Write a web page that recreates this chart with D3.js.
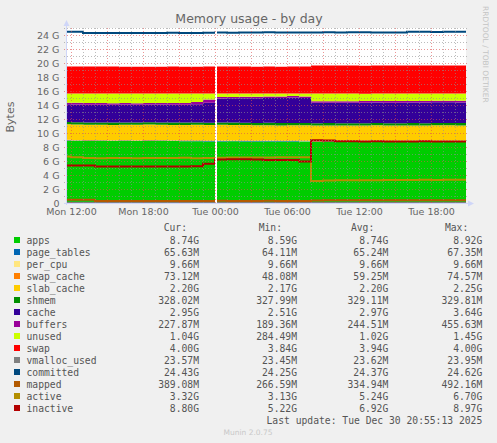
<!DOCTYPE html>
<html>
<head>
<meta charset="utf-8">
<script src="https://cdnjs.cloudflare.com/ajax/libs/d3/7.8.5/d3.min.js"></script>
<style>
body { margin: 0; background: #f0f0f0; }
svg text { font-family: "DejaVu Sans", sans-serif; fill: #666; }
.legend text { font-family: "DejaVu Sans Mono", monospace; font-size: 9.7px; fill: #555; }
</style>
</head>
<body>
<div class="memory-chart"></div>
<script>
// samples (hourly, step after), values in G
var sampleTimes = [
	"2025-12-29T11:00","2025-12-29T12:00","2025-12-29T13:00","2025-12-29T14:00","2025-12-29T15:00",
	"2025-12-29T16:00","2025-12-29T17:00","2025-12-29T18:00","2025-12-29T19:00","2025-12-29T20:00",
	"2025-12-29T21:00","2025-12-29T22:00","2025-12-29T23:00","2025-12-30T00:00","2025-12-30T01:00",
	"2025-12-30T02:00","2025-12-30T03:00","2025-12-30T04:00","2025-12-30T05:00","2025-12-30T06:00",
	"2025-12-30T07:00","2025-12-30T08:00","2025-12-30T09:00","2025-12-30T10:00","2025-12-30T11:00",
	"2025-12-30T12:00","2025-12-30T13:00","2025-12-30T14:00","2025-12-30T15:00","2025-12-30T16:00",
	"2025-12-30T17:00","2025-12-30T18:00","2025-12-30T19:00","2025-12-30T20:00","2025-12-30T21:00"
];
var viewStart = "2025-12-29T11:35";
var viewEnd = "2025-12-30T20:55";
var unknownSpans = [["2025-12-30T00:00", "2025-12-30T00:10"]];

var apps = [8.90,8.88,8.86,8.85,8.84,8.85,8.84,8.86,8.85,8.84,8.83,8.82,8.78, 8.80,8.81,8.80,8.79,8.80,8.78,8.79,8.77, 8.72,8.74,8.73,8.72,8.73,8.74,8.72,8.73,8.74,8.73,8.74,8.75,8.74,8.74];
var pageTables = [0.064,0.064,0.065,0.065,0.064,0.065,0.065,0.065,0.066,0.065,0.065,0.066,0.067, 0.066,0.065,0.065,0.065,0.066,0.065,0.065,0.066, 0.066,0.065,0.065,0.066,0.065,0.065,0.066,0.065,0.065,0.066,0.066,0.065,0.066,0.066];
var perCpu = [0.0097,0.0097,0.0097,0.0097,0.0097,0.0097,0.0097,0.0097,0.0097,0.0097,0.0097,0.0097,0.0097, 0.0097,0.0097,0.0097,0.0097,0.0097,0.0097,0.0097,0.0097, 0.0097,0.0097,0.0097,0.0097,0.0097,0.0097,0.0097,0.0097,0.0097,0.0097,0.0097,0.0097,0.0097,0.0097];
var swapCache = [0.048,0.049,0.050,0.051,0.052,0.052,0.053,0.053,0.054,0.055,0.055,0.056,0.058, 0.060,0.061,0.061,0.062,0.063,0.064,0.065,0.066, 0.070,0.071,0.071,0.072,0.072,0.073,0.073,0.073,0.074,0.074,0.073,0.073,0.073,0.073];
var slabCache = [2.22,2.21,2.20,2.20,2.19,2.20,2.20,2.21,2.20,2.19,2.20,2.21,2.23, 2.25,2.21,2.20,2.19,2.18,2.17,2.18,2.19, 2.21,2.20,2.19,2.20,2.20,2.21,2.20,2.19,2.20,2.20,2.21,2.20,2.20,2.20];
var shmem = [0.328,0.328,0.329,0.329,0.329,0.329,0.328,0.329,0.329,0.329,0.329,0.329,0.330, 0.330,0.329,0.329,0.329,0.329,0.329,0.329,0.329, 0.329,0.329,0.329,0.329,0.328,0.328,0.328,0.328,0.328,0.328,0.328,0.328,0.328,0.328];
var cache = [2.52,2.53,2.53,2.54,2.54,2.55,2.54,2.55,2.56,2.55,2.56,2.62,2.86, 3.42,3.48,3.50,3.52,3.55,3.58,3.64,3.56, 2.90,2.91,2.92,2.92,2.93,2.93,2.94,2.93,2.94,2.94,2.95,2.95,2.95,2.95];
var buffers = [0.24,0.24,0.23,0.23,0.23,0.22,0.23,0.22,0.23,0.23,0.24,0.32,0.45, 0.19,0.19,0.20,0.20,0.20,0.21,0.20,0.21, 0.22,0.22,0.22,0.23,0.23,0.22,0.23,0.23,0.22,0.23,0.23,0.23,0.23,0.23];
var unused = [1.30,1.32,1.36,1.36,1.38,1.35,1.36,1.33,1.33,1.36,1.34,1.20,0.85, 0.51,0.48,0.47,0.46,0.43,0.42,0.35,0.43, 1.11,1.09,1.10,1.08,1.06,1.05,1.06,1.07,1.05,1.05,1.02,1.02,1.03,1.04];
var swap = [3.86,3.86,3.85,3.85,3.85,3.84,3.85,3.85,3.85,3.86,3.85,3.85,3.85, 3.86,3.86,3.85,3.85,3.86,3.85,3.86,3.86, 4.00,4.00,4.00,4.00,4.00,4.00,4.00,4.00,4.00,4.00,4.00,4.00,4.00,4.00];
var vmallocUsed = [0.0235,0.0235,0.0236,0.0235,0.0234,0.0235,0.0236,0.0235,0.0235,0.0236,0.0235,0.0236,0.0237, 0.0236,0.0236,0.0235,0.0236,0.0237,0.0236,0.0236,0.0237, 0.0236,0.0236,0.0237,0.0236,0.0236,0.0237,0.0236,0.0236,0.0237,0.0236,0.0236,0.0236,0.0236,0.0236];
var committed = [24.48,24.46,24.28,24.27,24.29,24.27,24.28,24.30,24.28,24.31,24.30,24.29,24.33, 24.35,24.33,24.36,24.35,24.38,24.36,24.37,24.35, 24.36,24.40,24.35,24.38,24.41,24.36,24.35,24.37,24.45,24.46,24.44,24.46,24.45,24.43];
var mapped = [0.48,0.47,0.45,0.29,0.28,0.29,0.28,0.29,0.28,0.29,0.30,0.29,0.30, 0.31,0.30,0.29,0.30,0.31,0.30,0.29,0.30, 0.36,0.38,0.39,0.38,0.39,0.40,0.39,0.38,0.39,0.40,0.39,0.39,0.39,0.39];
var active = [6.65,6.55,6.42,6.41,6.42,6.43,6.41,6.42,6.44,6.43,6.45,6.40,6.42, 6.48,6.50,6.49,6.51,6.50,6.52,6.55,6.53, 3.14,3.22,3.25,3.26,3.25,3.24,3.27,3.30,3.28,3.31,3.30,3.32,3.31,3.32];
var inactive = [5.36,5.35,5.34,5.23,5.23,5.22,5.23,5.23,5.22,5.23,5.23,5.24,5.62, 6.22,6.26,6.25,6.22,6.16,6.15,6.14,5.92, 8.96,8.94,8.82,8.81,8.80,8.81,8.80,8.79,8.80,8.81,8.80,8.80,8.79,8.80];

var legendNames = ["apps","page_tables","per_cpu","swap_cache","slab_cache","shmem","cache","buffers","unused","swap","vmalloc_used","committed","mapped","active","inactive"];
var legendColors = ["#00CC00","#0066B3","#FFE680","#FF8000","#FFCC00","#008F00","#330099","#990099","#CCFF00","#FF0000","#808080","#00487D","#B35A00","#B38F00","#B30000"];
var curText = ["8.74G","65.63M","9.66M","73.12M","2.20G","328.02M","2.95G","227.87M","1.04G","4.00G","23.57M","24.43G","389.08M","3.32G","8.80G"];
var minText = ["8.59G","64.11M","9.66M","48.08M","2.17G","327.99M","2.51G","189.36M","284.49M","3.84G","23.45M","24.25G","266.59M","3.13G","5.22G"];
var avgText = ["8.74G","65.24M","9.66M","59.25M","2.20G","329.11M","2.97G","244.51M","1.02G","3.94G","23.62M","24.37G","334.94M","5.24G","6.92G"];
var maxText = ["8.92G","67.35M","9.66M","74.57M","2.25G","329.81M","3.64G","455.63M","1.45G","4.00G","23.95M","24.62G","492.16M","6.70G","8.97G"];
var yTickValues = [0,2,4,6,8,10,12,14,16,18,20,22,24];

var seriesValues = [apps, pageTables, perCpu, swapCache, slabCache, shmem, cache, buffers, unused, swap, vmallocUsed, committed, mapped, active, inactive];
var stackKeys = legendNames.slice(0, 10);
var lineKeys = legendNames.slice(10);

var parseTime = d3.timeParse("%Y-%m-%dT%H:%M");
var rows = sampleTimes.map(function(t, i){
	var r = {time: parseTime(t)};
	legendNames.forEach(function(name, k){ r[name] = seriesValues[k][i]; });
	return r;
});
var colorOf = d3.scaleOrdinal().domain(legendNames).range(legendColors);

function drawChart() {
	var sel = d3.select(".memory-chart").html("");
	var width = 497, height = 443;

	var svg = sel.append("svg")
		.attr("width", width)
		.attr("height", height)

	svg.append("rect").attr("width", width).attr("height", height).attr("fill", "#f0f0f0");

	var plot = {left: 66, right: 466, top: 28, bottom: 203};

	var x = d3.scaleTime().domain([parseTime(viewStart), parseTime(viewEnd)]).range([plot.left, plot.right]);
	var y = d3.scaleLinear().domain([0, 25]).range([plot.bottom, plot.top]);

	svg.append("clipPath").attr("id", "plot-clip")
		.append("rect")
		.attr("x", plot.left).attr("y", plot.top)
		.attr("width", plot.right - plot.left).attr("height", plot.bottom - plot.top);

	svg.append("rect")
		.attr("x", plot.left).attr("y", plot.top)
		.attr("width", plot.right - plot.left).attr("height", plot.bottom - plot.top)
		.attr("fill", "#fff");

	var g = svg.append("g").attr("clip-path", "url(#plot-clip)");

	var stacked = d3.stack().keys(stackKeys)(rows);
	var area = d3.area()
		.curve(d3.curveStepAfter)
		.x(d => x(d.data.time))
		.y0(d => y(d[0]))
		.y1(d => y(d[1]));

	g.selectAll("path.layer").data(stacked).join("path")
		.attr("class", "layer")
		.attr("fill", d => colorOf(d.key))
		.attr("d", area);

	lineKeys.forEach(function(key){
		var line = d3.line()
			.curve(d3.curveStepAfter)
			.x(d => x(d.time))
			.y(d => y(d[key]));
		g.append("path")
			.datum(rows)
			.attr("fill", "none")
			.attr("stroke", colorOf(key))
			.attr("stroke-width", 2)
			.attr("d", line);
	});

	// no data: blank column
	g.selectAll("rect.unknown").data(unknownSpans).join("rect")
		.attr("class", "unknown")
		.attr("x", d => x(parseTime(d[0])))
		.attr("width", d => x(parseTime(d[1])) - x(parseTime(d[0])))
		.attr("y", plot.top).attr("height", plot.bottom - plot.top)
		.attr("fill", "#fff");

	// grid
	var grid = svg.append("g").attr("shape-rendering", "crispEdges");
	var majorHours = x.ticks(d3.timeHour.every(3)).map(d => +d);
	x.ticks(d3.timeHour.every(1)).forEach(function(t){
		var major = majorHours.indexOf(+t) >= 0;
		grid.append("line")
			.attr("x1", Math.round(x(t)) + 0.5).attr("x2", Math.round(x(t)) + 0.5)
			.attr("y1", plot.top).attr("y2", plot.bottom + 2)
			.attr("stroke", major ? "rgba(222,79,79,0.6)" : "rgba(143,143,143,0.6)")
			.attr("stroke-dasharray", "1,2");
	});
	y.ticks(25).forEach(function(v){
		var major = yTickValues.indexOf(v) >= 0;
		grid.append("line")
			.attr("x1", plot.left - 2).attr("x2", plot.right + 2)
			.attr("y1", Math.round(y(v)) + 0.5).attr("y2", Math.round(y(v)) + 0.5)
			.attr("stroke", major ? "rgba(222,79,79,0.6)" : "rgba(143,143,143,0.6)")
			.attr("stroke-dasharray", "1,2");
	});

	// axes lines + arrows
	var axisColor = "#CFD6F8";
	grid.append("line").attr("x1", plot.left + 0.5).attr("x2", plot.left + 0.5)
		.attr("y1", plot.bottom + 2).attr("y2", plot.top - 4).attr("stroke", axisColor);
	grid.append("line").attr("x1", plot.left - 2).attr("x2", plot.right + 4)
		.attr("y1", plot.bottom + 0.5).attr("y2", plot.bottom + 0.5).attr("stroke", axisColor);
	svg.append("path").attr("fill", axisColor)
		.attr("d", "M" + (plot.left - 2.5) + "," + (plot.top - 2) + "L" + (plot.left + 0.5) + "," + (plot.top - 8) + "L" + (plot.left + 3.5) + "," + (plot.top - 2) + "Z");
	svg.append("path").attr("fill", axisColor)
		.attr("d", "M" + (plot.right + 2) + "," + (plot.bottom - 2.5) + "L" + (plot.right + 8) + "," + (plot.bottom + 0.5) + "L" + (plot.right + 2) + "," + (plot.bottom + 3.5) + "Z");

	var yAxis = d3.axisLeft(y).tickValues(yTickValues).tickSize(0).tickPadding(6.5)
		.tickFormat(d => d === 0 ? "0" : d + " G");
	var xAxis = d3.axisBottom(x).ticks(d3.timeHour.every(6)).tickSize(0).tickPadding(5.4)
		.tickFormat(d3.timeFormat("%a %H:%M"));

	svg.append("g").attr("transform", "translate(" + plot.left + ",0)").call(yAxis)
		.call(a => a.select(".domain").remove())
		.selectAll("text").style("font-family", "DejaVu Sans").style("font-size", "9.5px").attr("fill", "#666");
	svg.append("g").attr("transform", "translate(0," + plot.bottom + ")").call(xAxis)
		.call(a => a.select(".domain").remove())
		.selectAll("text").style("font-family", "DejaVu Sans").style("font-size", "9.5px").attr("fill", "#666");

	// titles
	svg.append("text").attr("x", 249).attr("y", 23).attr("text-anchor", "middle")
		.style("font-size", "12.5px").text("Memory usage - by day");
	svg.append("text").attr("transform", "translate(14,117) rotate(-90)").attr("text-anchor", "middle")
		.style("font-size", "11px").text("Bytes");
	svg.append("text").attr("transform", "translate(483,6) rotate(90)")
		.style("font-size", "7.5px").style("fill", "#c4c4c4").text("RRDTOOL / TOBI OETIKER");
	svg.append("text").attr("x", 248).attr("y", 435).attr("text-anchor", "middle")
		.style("font-size", "7.5px").style("fill", "#c8c8c8").text("Munin 2.0.75");

	// legend
	var leg = svg.append("g").attr("class", "legend");
	var headers = [["Cur:", 187], ["Min:", 282], ["Avg:", 374.3], ["Max:", 468.3]];
	headers.forEach(h => leg.append("text").attr("x", h[1]).attr("y", 231.3).attr("text-anchor", "end").text(h[0]));

	var cols = [[curText, 199], [minText, 297], [avgText, 388.3], [maxText, 482.3]];
	var item = leg.selectAll("g.item").data(legendNames).join("g")
		.attr("class", "item")
		.attr("transform", (d, i) => "translate(0," + (240 + 12 * i) + ")");
	item.append("rect").attr("x", 14).attr("y", -3).attr("width", 6).attr("height", 6)
		.attr("fill", d => colorOf(d));
	item.append("text").attr("x", 26.5).attr("y", 3.5).text(d => d);
	cols.forEach(function(c){
		item.append("text").attr("x", c[1]).attr("y", 3.5).attr("text-anchor", "end")
			.text((d, i) => c[0][i]);
	});
	leg.append("text").attr("x", 482.3).attr("y", 423.5).attr("text-anchor", "end")
		.text("Last update: Tue Dec 30 20:55:13 2025");
}

drawChart();
</script>
</body>
</html>
